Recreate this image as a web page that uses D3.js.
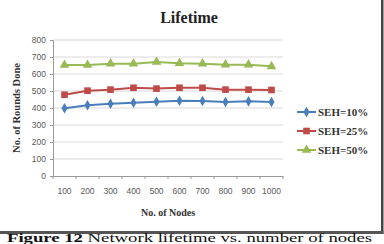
<!DOCTYPE html>
<html>
<head>
<meta charset="utf-8">
<script src="https://cdn.jsdelivr.net/npm/d3@7"></script>
<style>
  body { margin: 0; background: #fff; }
  svg { display: block; }
</style>
</head>
<body>
<div id="chart"></div>
<script>
// data
var nodes = [100, 200, 300, 400, 500, 600, 700, 800, 900, 1000];
var seh10 = [398, 416, 425, 431, 437, 443, 441, 435, 439, 435];
var seh25 = [478, 502, 508, 519, 514, 519, 519, 508, 508, 506];
var seh50 = [653, 653, 661, 661, 671, 663, 661, 655, 655, 645];
var seriesNames = ["SEH=10%", "SEH=25%", "SEH=50%"];
var yTicks = [0, 100, 200, 300, 400, 500, 600, 700, 800];

var series = [
  {name: seriesNames[0], values: seh10, color: "#4A7EBB", shape: d3.symbolDiamond, size: 32},
  {name: seriesNames[1], values: seh25, color: "#BE4B48", shape: d3.symbolSquare, size: 44},
  {name: seriesNames[2], values: seh50, color: "#98B954", shape: d3.symbolTriangle, size: 40}
];

var W = 384, H = 244;
var margin = {top: 40, left: 53},
    width = 230,
    height = 136;

var svg = d3.select("#chart")
  .append("svg")
    .attr("width", W)
    .attr("height", H);

// frame borders (right and bottom)
svg.append("rect")
  .attr("x", 381).attr("y", 0)
  .attr("width", 2.5).attr("height", 234)
  .attr("fill", "#444");
svg.append("rect")
  .attr("x", 0).attr("y", 231)
  .attr("width", 383.5).attr("height", 3)
  .attr("fill", "#555");

var g = svg.append("g")
  .attr("transform", "translate(" + margin.left + "," + margin.top + ")");

var x = d3.scaleBand()
  .domain(nodes)
  .range([0, width]);

var y = d3.scaleLinear()
  .domain([0, 800])
  .range([height, 0]);

// gridlines
g.append("g")
  .selectAll("line")
  .data(yTicks.filter(function(d) { return d > 0; }))
  .enter()
  .append("line")
    .attr("x1", 0)
    .attr("x2", width)
    .attr("y1", function(d) { return y(d); })
    .attr("y2", function(d) { return y(d); })
    .attr("stroke", "#d9d9d9")
    .attr("stroke-width", 1);

// Y axis
var yAxis = g.append("g")
  .call(d3.axisLeft(y).tickValues(yTicks).tickSize(3).tickPadding(4));
yAxis.select(".domain").attr("stroke", "#999");
yAxis.selectAll(".tick line").attr("stroke", "#999");
yAxis.selectAll("text")
  .attr("fill", "#595959")
  .style("font-family", "Liberation Sans, Arial, sans-serif")
  .style("font-size", "8.5px");

// X axis
var xAxis = g.append("g")
  .attr("transform", "translate(0," + height + ")")
  .call(d3.axisBottom(x).tickSize(0).tickPadding(12));
xAxis.select(".domain").attr("stroke", "#999");
xAxis.selectAll("text")
  .attr("fill", "#595959")
  .style("font-family", "Liberation Sans, Arial, sans-serif")
  .style("font-size", "8.5px");
// tick marks between categories
xAxis.append("g")
  .selectAll("line")
  .data(nodes)
  .enter()
  .append("line")
    .attr("x1", function(d) { return x(d); })
    .attr("x2", function(d) { return x(d); })
    .attr("y1", 0)
    .attr("y2", 3)
    .attr("stroke", "#999");
xAxis.append("line")
  .attr("x1", width).attr("x2", width)
  .attr("y1", 0).attr("y2", 3)
  .attr("stroke", "#999");

// lines and markers
var line = d3.line()
  .x(function(d, i) { return x(nodes[i]) + x.bandwidth() / 2; })
  .y(function(d) { return y(d); });

series.forEach(function(s) {
  g.append("path")
    .datum(s.values)
    .attr("fill", "none")
    .attr("stroke", s.color)
    .attr("stroke-width", 2)
    .attr("d", line);
  g.selectAll(null)
    .data(s.values)
    .enter()
    .append("path")
      .attr("d", d3.symbol().type(s.shape).size(s.size))
      .attr("transform", function(d, i) {
        return "translate(" + (x(nodes[i]) + x.bandwidth() / 2) + "," + y(d) + ")";
      })
      .attr("fill", s.color);
});

// title
svg.append("text")
  .attr("x", 189)
  .attr("y", 23)
  .attr("text-anchor", "middle")
  .style("font-family", "Liberation Serif, Times New Roman, serif")
  .style("font-weight", "bold")
  .style("font-size", "16px")
  .attr("fill", "#222")
  .text("Lifetime");

// axis titles
svg.append("text")
  .attr("transform", "translate(20,108) rotate(-90)")
  .attr("text-anchor", "middle")
  .style("font-family", "Liberation Serif, Times New Roman, serif")
  .style("font-weight", "bold")
  .style("font-size", "10.5px")
  .attr("fill", "#333")
  .text("No. of Rounds Done");

svg.append("text")
  .attr("x", 168)
  .attr("y", 216)
  .attr("text-anchor", "middle")
  .style("font-family", "Liberation Serif, Times New Roman, serif")
  .style("font-weight", "bold")
  .style("font-size", "10px")
  .attr("fill", "#333")
  .text("No. of Nodes");

// legend
var legend = svg.append("g")
  .selectAll("g")
  .data(series)
  .enter()
  .append("g")
    .attr("transform", function(d, i) { return "translate(297," + (112 + i * 19) + ")"; });
legend.append("line")
  .attr("x1", 0).attr("x2", 19)
  .attr("stroke", function(d) { return d.color; })
  .attr("stroke-width", 2);
legend.append("path")
  .attr("d", function(d) { return d3.symbol().type(d.shape).size(d.size)(); })
  .attr("transform", "translate(9.5,0)")
  .attr("fill", function(d) { return d.color; });
legend.append("text")
  .attr("x", 21)
  .attr("y", 4)
  .style("font-family", "Liberation Serif, Times New Roman, serif")
  .style("font-weight", "bold")
  .style("font-size", "11px")
  .attr("fill", "#333")
  .text(function(d) { return d.name; });

// caption below the frame
var cap = svg.append("text")
  .attr("x", 7)
  .attr("y", 242)
  .attr("textLength", 365)
  .attr("lengthAdjust", "spacingAndGlyphs")
  .style("font-family", "Liberation Serif, Times New Roman, serif")
  .style("font-size", "11.5px")
  .attr("fill", "#111");
cap.append("tspan").style("font-weight", "bold").text("Figure 12 ");
cap.append("tspan").text("Network lifetime vs. number of nodes");
</script>
</body>
</html>
